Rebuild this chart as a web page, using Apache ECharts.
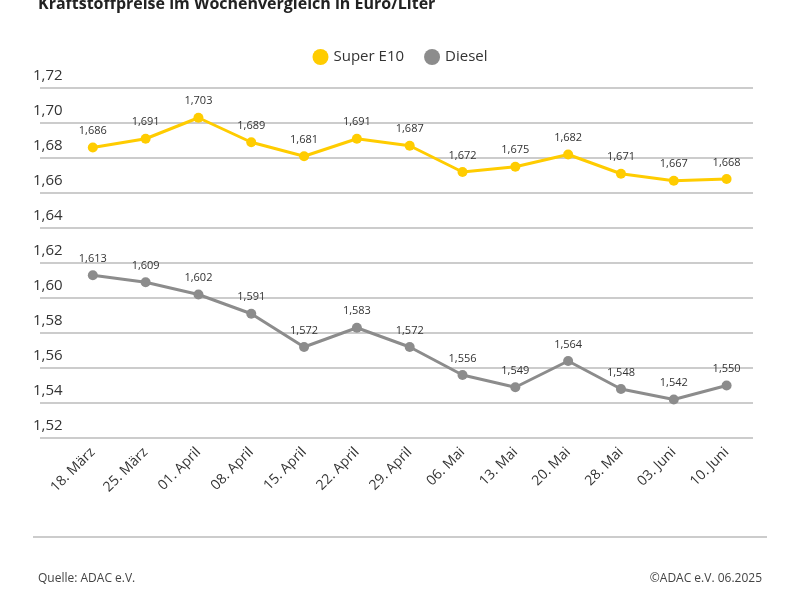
<!DOCTYPE html><html><head><meta charset="utf-8"><script src="https://cdn.jsdelivr.net/npm/echarts@6/dist/echarts.min.js"></script>
<style>body{margin:0}#c{width:800px;height:600px}</style></head><body><div id="c"></div><script>
const categories=['18. März','25. März','01. April','08. April','15. April','22. April','29. April','06. Mai','13. Mai','20. Mai','28. Mai','03. Juni','10. Juni'];
const superE10=[1.686,1.691,1.703,1.689,1.681,1.691,1.687,1.672,1.675,1.682,1.671,1.667,1.668];
const diesel=[1.613,1.609,1.602,1.591,1.572,1.583,1.572,1.556,1.549,1.564,1.548,1.542,1.550];
const fmt=v=>v.toFixed(3).replace('.',',');
const font='"Open Sans", sans-serif';
const mk=(name,data,color)=>({name,type:'line',data:data.map((v,i)=>[i,v]),color,symbol:'circle',symbolSize:10,
 lineStyle:{width:3,color},itemStyle:{color},label:{show:true,position:'top',distance:6,fontSize:11,color:'#333',fontFamily:font,formatter:p=>fmt(p.value[1])}});
const ch=echarts.init(document.getElementById('c'));
ch.setOption({animation:false,
 title:[{text:'Kraftstoffpreise im Wochenvergleich in Euro/Liter',left:33,top:-9,textStyle:{fontSize:16,fontWeight:'bold',color:'#222',fontFamily:font}},
  {text:'Quelle: ADAC e.V.',left:33,top:568,textStyle:{fontSize:12,fontWeight:'normal',color:'#444',fontFamily:font}},
  {text:'©ADAC e.V. 06.2025',right:33,top:568,textStyle:{fontSize:12,fontWeight:'normal',color:'#444',fontFamily:font}}],
 legend:{top:44,left:'center',itemWidth:16,itemHeight:16,icon:'circle',itemGap:20,textStyle:{fontSize:15,color:'#333',fontFamily:font},data:['Super E10','Diesel']},
 graphic:[{type:'line',shape:{x1:33,y1:537,x2:767,y2:537},style:{stroke:'#ccc',lineWidth:2}}],
 grid:{left:40,right:47,top:88,bottom:162},
 xAxis:{type:'value',min:-1,max:12.5,interval:1,splitLine:{show:false},axisLine:{show:false},axisTick:{show:false},
  axisLabel:{rotate:45,fontSize:14,color:'#333',fontFamily:font,margin:12,showMaxLabel:false,formatter:v=>categories[v]||''}},
 yAxis:{type:'value',min:1.52,max:1.72,interval:0.02,axisLine:{show:false},axisTick:{show:false},
  splitLine:{lineStyle:{color:'#ccc',width:2}},
  axisLabel:{inside:true,verticalAlign:'bottom',align:'left',margin:-7,padding:[0,0,5,0],fontSize:15,color:'#333',fontFamily:font,formatter:v=>v.toFixed(2).replace('.',',')}},
 series:[mk('Super E10',superE10,'#ffcc00'),mk('Diesel',diesel,'#8c8c8c')]
});
</script></body></html>
